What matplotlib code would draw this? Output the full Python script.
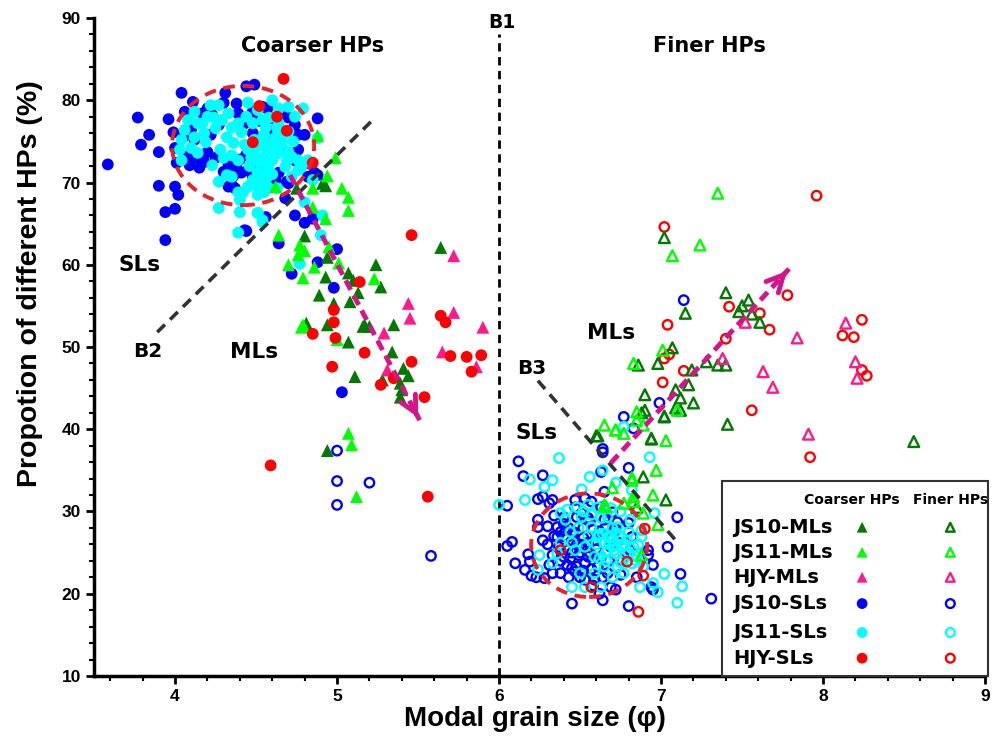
import numpy as np
import matplotlib
matplotlib.use("Agg")
import matplotlib.pyplot as plt
from matplotlib.patches import Ellipse, Rectangle

plt.rcParams['font.family'] = ['Liberation Sans', 'DejaVu Sans']
plt.rcParams['font.weight'] = 'bold'

# ---- coarser HPs (filled markers) ----
js10_ml_c_x = [4.91, 4.93, 4.75, 4.80, 4.94, 5.07, 5.10, 4.93, 5.24, 5.27, 5.13, 4.89, 4.98,
               5.64, 5.08, 5.35, 5.17, 4.94, 4.81, 5.16, 5.20, 5.07, 5.34, 5.11, 5.41, 5.44,
               5.28, 5.39, 5.39, 5.40, 4.94]
js10_ml_c_y = [69.9, 69.6, 69.3, 63.5, 60.9, 59.0, 58.1, 58.5, 60.0, 57.3, 56.6, 56.3, 55.3,
               62.1, 55.5, 52.7, 52.7, 52.7, 52.9, 52.5, 52.5, 50.6, 49.4, 46.4, 47.4, 46.5,
               46.0, 45.6, 43.9, 44.8, 37.4]

js11_ml_c_x = [4.88, 4.99, 4.94, 4.85, 5.03, 5.07, 5.07, 4.85, 4.93, 4.64, 4.77, 4.76, 4.80,
               4.70, 4.86, 4.79, 5.01, 4.95, 5.23, 4.79, 4.62, 4.78, 5.00, 5.07, 5.09, 5.12]
js11_ml_c_y = [75.7, 73.0, 70.8, 69.3, 69.3, 68.2, 66.6, 67.0, 65.6, 63.6, 62.4, 61.2, 61.7,
               60.0, 59.7, 58.4, 60.2, 62.2, 58.3, 52.7, 69.5, 52.4, 50.9, 39.5, 38.1, 31.8]

hjy_ml_c_x = [5.72, 5.44, 5.45, 5.72, 5.90, 5.29, 5.65, 5.86, 5.31]
hjy_ml_c_y = [61.1, 55.3, 53.5, 54.2, 52.4, 51.7, 49.4, 47.6, 47.2]

js10_sl_c_x = [3.585, 3.77, 3.84, 3.79, 3.90, 3.96, 4.04, 3.90, 4.00, 4.02, 4.00, 3.94, 3.94,
               4.11, 4.31, 4.44, 4.49, 4.38, 4.88, 4.76, 4.80, 4.08, 4.14, 4.09, 4.20, 4.25,
               4.33, 4.38, 4.22, 4.27, 4.23, 4.17, 4.39, 4.48, 4.54, 4.57, 4.35, 4.33, 4.37,
               4.45, 4.48, 4.54, 4.62, 4.70, 4.76, 4.74, 4.66, 4.62, 4.57, 4.48, 4.43, 4.74,
               4.69, 4.56, 4.43, 4.86, 4.82, 4.41, 4.64, 4.51, 4.01, 4.00, 3.99, 4.06, 4.12,
               4.68, 4.88, 4.74, 4.85, 4.80, 5.00, 4.88, 4.72, 4.98, 4.44, 4.64, 5.03,
               4.40, 4.44, 4.36, 4.30, 4.18, 4.15, 4.10, 4.05, 4.60, 4.66, 4.70, 4.52, 4.30,
               4.20]
js10_sl_c_y = [72.2, 77.9, 75.8, 74.6, 73.7, 77.7, 80.9, 69.6, 69.5, 68.5, 66.8, 66.4, 63.0,
               79.8, 80.9, 81.7, 81.9, 79.6, 77.8, 75.8, 75.8, 73.2, 73.0, 72.1, 73.7, 73.0,
               72.1, 71.8, 75.8, 77.0, 78.2, 78.4, 78.4, 78.6, 79.2, 79.0, 69.7, 69.5, 69.3,
               71.5, 70.7, 70.3, 70.3, 69.9, 74.0, 72.7, 74.0, 76.4, 76.0, 76.0, 77.2, 77.0,
               70.1, 65.8, 64.2, 71.2, 70.7, 71.2, 71.2, 71.5, 72.4, 74.2, 76.1, 78.6, 75.2,
               68.1, 70.9, 66.0, 65.6, 65.1, 61.9, 60.3, 58.9, 57.2, 64.1, 62.6, 44.5,
               72.8, 73.4, 70.8, 71.3, 72.5, 71.8, 76.5, 75.5, 77.8, 78.5, 77.9, 77.5, 79.7,
               79.0]

js11_sl_c_x = [4.22, 4.27, 4.12, 4.08, 4.06, 4.04, 4.03, 4.12, 4.17, 4.20, 4.25, 4.19, 4.29,
               4.33, 4.32, 4.28, 4.35, 4.39, 4.23, 4.32, 4.35, 4.27, 4.39, 4.45, 4.51, 4.44,
               4.54, 4.60, 4.64, 4.70, 4.79, 4.74, 4.56, 4.41, 4.49, 4.56, 4.57, 4.49, 4.45,
               4.54, 4.60, 4.64, 4.70, 4.72, 4.76, 4.68, 4.57, 4.51, 4.48, 4.57, 4.49, 4.57,
               4.51, 4.45, 4.40, 4.76, 4.72, 4.62, 4.66, 4.64, 4.48, 4.39, 4.35, 4.27, 4.40,
               4.51, 4.54, 4.39, 4.85, 4.82, 4.88, 4.78, 4.04, 4.14, 4.80, 4.91, 4.90, 4.77,
               4.51, 4.54, 4.42, 4.52, 4.58, 4.55, 4.60, 4.50,
               4.50, 4.55, 4.60, 4.62, 4.58, 4.52, 4.47, 4.66, 4.69, 4.60, 4.53, 4.63, 4.43,
               4.46, 4.36, 4.30, 4.18, 4.14, 4.24, 4.10, 4.58, 4.70, 4.73, 4.55, 4.63]
js11_sl_c_y = [79.4, 79.4, 78.6, 77.6, 76.4, 75.2, 74.0, 75.5, 77.2, 78.0, 76.6, 74.9, 77.6,
               78.4, 75.5, 74.0, 73.3, 72.7, 72.1, 70.9, 70.7, 70.1, 68.8, 79.7, 78.8, 78.0,
               77.6, 80.0, 79.0, 79.2, 79.0, 78.0, 76.7, 76.1, 75.2, 74.8, 74.0, 73.6, 74.0,
               73.0, 72.7, 73.6, 73.7, 73.1, 72.7, 71.9, 71.9, 71.2, 70.3, 70.7, 69.7, 69.5,
               68.5, 69.5, 67.9, 71.5, 70.7, 75.5, 75.5, 77.2, 77.2, 77.2, 76.7, 66.9, 66.4,
               66.3, 65.2, 63.9, 70.3, 72.7, 75.4, 71.9, 72.7, 73.6, 67.6, 66.0, 63.6, 60.1,
               66.3, 65.4, 68.8, 74.5, 74.2, 75.0, 74.8, 74.9,
               74.5, 75.8, 74.6, 73.4, 72.3, 72.5, 73.0, 74.8, 72.6, 71.0, 70.0, 76.6, 74.6,
               72.0, 74.8, 73.0, 76.0, 77.2, 77.9, 74.2, 77.9, 76.2, 75.0, 68.8, 69.3]

hjy_sl_c_x = [4.67, 4.52, 4.63, 4.69, 4.48, 4.85, 5.46, 5.14, 4.98, 4.98, 4.85, 4.99, 5.64,
              5.67, 5.17, 4.97, 5.46, 5.35, 5.27, 5.54, 5.70, 5.80, 5.89, 5.83, 4.59, 5.56]
hjy_sl_c_y = [82.6, 79.3, 78.0, 76.3, 74.9, 72.4, 63.6, 57.9, 54.5, 53.0, 51.6, 51.1, 53.8,
              53.0, 49.3, 47.6, 48.2, 46.2, 45.4, 43.9, 48.9, 48.8, 49.0, 47.0, 35.6, 31.8]

# ---- finer HPs (open markers) ----
js10_ml_f_x = [7.02, 7.40, 7.54, 7.50, 7.48, 7.56, 7.61, 7.15, 7.07, 6.86, 6.98, 7.19, 7.28,
               7.35, 7.40, 7.09, 7.17, 7.12, 6.90, 7.20, 7.09, 7.02, 7.41, 6.94, 6.61, 8.56,
               6.60, 6.88, 6.90, 7.02, 7.12, 6.94, 6.89, 7.03, 6.85]
js10_ml_f_y = [63.3, 56.6, 55.7, 55.0, 54.3, 54.0, 53.0, 54.1, 49.9, 47.8, 48.0, 47.2, 48.2,
               47.8, 47.8, 44.8, 45.4, 43.8, 44.2, 43.2, 42.6, 41.5, 40.6, 38.9, 39.2, 38.5,
               39.2, 42.0, 42.3, 41.6, 42.3, 38.8, 34.2, 31.4, 30.5]

js11_ml_f_x = [7.35, 7.24, 7.07, 7.01, 6.83, 7.10, 7.03, 6.65, 6.85, 6.72, 6.72, 6.85, 6.89,
               6.77, 6.82, 6.95, 6.89, 6.83, 6.97, 6.66, 6.70, 6.98, 6.82, 6.83, 6.88, 6.77,
               6.65]
js11_ml_f_y = [68.7, 62.4, 61.1, 49.6, 48.0, 42.3, 38.6, 40.5, 42.1, 39.9, 39.9, 41.1, 40.5,
               39.5, 34.1, 32.0, 29.8, 31.8, 35.0, 30.6, 32.9, 28.4, 33.8, 31.2, 24.7, 31.0,
               30.8]

hjy_ml_f_x = [7.84, 7.63, 7.69, 7.52, 7.38, 8.14, 8.20, 8.21, 7.91]
hjy_ml_f_y = [51.1, 47.0, 45.1, 53.0, 48.6, 52.9, 48.2, 46.2, 39.4]

js10_sl_f_x = [5.00, 5.00, 5.20, 5.00, 5.58, 7.14, 6.99, 6.77, 6.83, 6.64, 6.80, 6.12, 6.15,
               6.27, 6.05, 6.05, 6.08, 6.10, 6.24, 6.27, 6.31, 6.33, 6.24, 6.24, 6.27, 6.18,
               6.19, 6.16, 6.20, 6.23, 6.36, 6.36, 6.37, 6.38, 6.42, 6.45, 6.42, 6.40, 6.44,
               6.45, 6.48, 6.38, 6.33, 6.43, 6.50, 6.53, 6.59, 6.64, 6.69, 6.72, 6.64, 6.45,
               6.80, 6.47, 6.51, 6.48, 6.52, 6.55, 6.58, 6.59, 6.55, 6.51, 6.49, 6.53, 6.61,
               6.63, 6.67, 6.65, 6.63, 6.65, 6.63, 6.64, 6.73, 6.80, 6.82, 6.81, 6.76, 6.75,
               6.85, 6.92, 6.92, 6.95, 6.94, 7.04, 7.10, 7.12, 7.31, 6.33, 6.31, 6.28, 6.70,
               6.57, 6.53, 6.47, 6.70, 6.69, 6.73, 6.95, 6.72, 6.46, 6.56, 6.60, 6.50, 6.40,
               6.40, 6.43, 6.46, 6.48, 6.50, 6.52, 6.45, 6.42, 6.47, 6.55, 6.57, 6.60, 6.62,
               6.66, 6.56, 6.40, 6.34, 6.30, 6.30, 6.34, 6.38, 6.52, 6.68, 6.58, 6.62]
js10_sl_f_y = [37.4, 33.7, 33.5, 30.8, 24.6, 55.7, 43.2, 41.5, 40.1, 37.6, 35.3, 36.1, 34.3,
               34.4, 30.7, 25.8, 26.3, 23.7, 31.5, 31.8, 31.0, 31.4, 29.0, 28.1, 26.5, 24.8,
               23.9, 22.9, 22.2, 22.0, 28.1, 26.9, 25.7, 27.5, 26.9, 26.5, 25.3, 24.5, 24.3,
               23.1, 23.3, 22.5, 22.5, 22.0, 22.0, 21.7, 21.7, 22.0, 20.8, 20.5, 19.2, 18.8,
               18.5, 30.5, 29.8, 29.3, 28.0, 29.2, 27.8, 26.5, 26.2, 25.7, 24.7, 23.7, 23.3,
               24.5, 22.5, 29.0, 30.5, 32.4, 34.8, 37.2, 28.7, 28.6, 26.9, 25.3, 24.1, 22.3,
               22.0, 25.3, 24.7, 23.5, 20.8, 25.7, 29.3, 22.4, 19.4, 24.7, 23.5, 21.9, 29.9,
               31.2, 31.6, 31.4, 26.9, 25.7, 26.3, 20.5, 27.8, 27.5, 25.0, 27.0, 26.0, 28.5,
               27.0, 28.0, 27.2, 26.0, 25.0, 26.8, 25.0, 23.5, 22.7, 24.5, 23.0, 25.4, 27.6,
               28.2, 28.8, 29.3, 27.0, 26.0, 28.2, 29.5, 24.0, 22.8, 24.0, 21.0, 20.0]

js11_sl_f_x = [6.00, 6.19, 6.16, 6.28, 6.33, 6.37, 6.51, 6.56, 6.64, 6.72, 6.93, 6.96, 6.38,
               6.41, 6.51, 6.57, 6.61, 6.67, 6.73, 6.57, 6.61, 6.65, 6.70, 6.67, 6.72, 6.76,
               6.79, 6.83, 6.88, 6.88, 6.85, 6.89, 6.82, 6.73, 6.65, 6.59, 6.53, 6.47, 6.45,
               6.38, 6.36, 6.25, 6.24, 6.33, 6.50, 6.53, 6.45, 6.63, 6.77, 6.87, 6.95, 6.98,
               7.02, 7.13, 7.10, 6.44, 6.49, 6.55, 6.63, 6.82, 6.81, 6.84, 6.72, 6.70, 6.59,
               6.77, 6.68, 6.62, 6.75, 6.66, 6.71, 6.78,
               6.60, 6.64, 6.68, 6.71, 6.74, 6.77, 6.80, 6.70, 6.62, 6.66, 6.75, 6.78, 6.55,
               6.52, 6.48, 6.42, 6.69, 6.75, 6.80, 6.86]
js11_sl_f_y = [30.8, 33.9, 31.4, 33.0, 33.8, 36.5, 32.7, 34.2, 35.0, 33.5, 36.6, 29.8, 29.8,
               29.0, 29.3, 29.6, 30.5, 29.3, 28.1, 28.1, 26.9, 26.2, 26.5, 25.3, 24.9, 25.7,
               26.5, 25.7, 26.9, 27.7, 24.5, 23.3, 23.7, 23.3, 23.3, 24.5, 25.7, 25.3, 26.2,
               26.2, 24.9, 24.7, 22.9, 23.7, 22.5, 20.8, 20.8, 20.8, 22.5, 20.8, 21.3, 20.2,
               22.4, 20.9, 18.9, 27.5, 28.0, 30.8, 29.2, 32.6, 29.0, 24.1, 27.4, 22.0, 22.5,
               40.3, 26.0, 27.2, 27.0, 25.0, 25.8, 26.0,
               26.0, 27.3, 26.8, 25.3, 27.0, 26.0, 27.5, 28.0, 24.3, 24.0, 23.8, 24.8, 27.0,
               30.0, 30.5, 30.2, 30.4, 30.0, 25.0, 26.0]

hjy_sl_f_x = [7.02, 7.42, 7.61, 7.67, 7.78, 7.40, 7.04, 7.02, 7.05, 7.14, 7.01, 7.56, 7.96,
              8.24, 8.12, 8.19, 8.24, 8.27, 7.92, 6.38, 6.90, 6.79, 6.89, 6.57, 6.86]
hjy_sl_f_y = [64.6, 54.9, 54.1, 52.1, 56.3, 51.0, 52.7, 48.6, 49.1, 47.1, 45.7, 42.3, 68.4,
              53.3, 51.4, 51.2, 47.2, 46.5, 36.6, 25.3, 27.9, 23.9, 22.2, 20.8, 17.8]

# boundary lines and trend arrows
b2_x, b2_y = [3.89, 5.22], [51.8, 77.6]
b3_x, b3_y = [6.24, 7.09], [45.9, 26.5]
arrow1_x, arrow1_y = [4.71, 5.51], [70.9, 41.1]
arrow2_x, arrow2_y = [6.69, 7.79], [35.9, 59.5]

c_dkgreen = '#007a00'
c_green = '#00ff00'
c_pink = '#ff1a8c'
c_blue = '#0000ff'
c_cyan = '#00ffff'
c_red = '#ff0000'
c_arrow = '#d4148a'

fig = plt.figure(figsize=(9.92, 7.39), dpi=100)
ax = fig.add_axes([0.0948, 0.0853, 0.8982, 0.8903])

sf = 72
so = 46
# open markers
ax.scatter(js10_sl_f_x, js10_sl_f_y, s=so, marker='o', facecolors='none', edgecolors=c_blue, linewidths=1.7, zorder=3)
ax.scatter(js11_sl_f_x, js11_sl_f_y, s=so, marker='o', facecolors='none', edgecolors=c_cyan, linewidths=1.7, zorder=3)
ax.scatter(hjy_sl_f_x, hjy_sl_f_y, s=so, marker='o', facecolors='none', edgecolors=c_red, linewidths=1.7, zorder=3)
ax.scatter(js10_ml_f_x, js10_ml_f_y, s=so + 14, marker='^', facecolors='none', edgecolors=c_dkgreen, linewidths=1.7, zorder=3)
ax.scatter(js11_ml_f_x, js11_ml_f_y, s=so + 14, marker='^', facecolors='none', edgecolors=c_green, linewidths=1.7, zorder=3)
ax.scatter(hjy_ml_f_x, hjy_ml_f_y, s=so + 14, marker='^', facecolors='none', edgecolors=c_pink, linewidths=1.7, zorder=3)

# filled markers
ax.scatter(js10_sl_c_x, js10_sl_c_y, s=sf, marker='o', color=c_blue, edgecolors='none', zorder=3)
ax.scatter(js11_sl_c_x, js11_sl_c_y, s=sf, marker='o', color=c_cyan, edgecolors='none', zorder=3)
ax.scatter(js10_ml_c_x, js10_ml_c_y, s=sf + 14, marker='^', color=c_dkgreen, edgecolors='none', zorder=3)
ax.scatter(js11_ml_c_x, js11_ml_c_y, s=sf + 14, marker='^', color=c_green, edgecolors='none', zorder=3)
ax.scatter(hjy_ml_c_x, hjy_ml_c_y, s=sf + 14, marker='^', color=c_pink, edgecolors='none', zorder=3)
ax.scatter(hjy_sl_c_x, hjy_sl_c_y, s=sf, marker='o', color=c_red, edgecolors='none', zorder=3)

# red dashed ellipses round the SL clusters
for cx, cy, w, h in [(4.42, 74.5, 0.877, 14.5), (6.556, 25.9, 0.716, 12.6)]:
    ax.add_patch(Ellipse((cx, cy), w, h, fill=False, edgecolor='#e8222a', lw=2.8,
                         linestyle=(0, (3, 2)), zorder=4))

# boundaries
ax.plot([6, 6], [10, 88.0], color='black', lw=2, linestyle=(0, (3, 2)), zorder=2)
ax.plot(b2_x, b2_y, color='#333333', lw=2.6, linestyle=(0, (3, 2)), zorder=4)
ax.plot(b3_x, b3_y, color='#333333', lw=2.6, linestyle=(0, (3, 2)), zorder=4)

# trend arrows
for ax_, ay_ in [(arrow1_x, arrow1_y), (arrow2_x, arrow2_y)]:
    ax.plot(ax_, ay_, color=c_arrow, lw=3.5, linestyle=(0, (2.2, 1.3)), zorder=5)
    x0 = ax_[1] - 0.03 * (ax_[1] - ax_[0])
    y0 = ay_[1] - 0.03 * (ay_[1] - ay_[0])
    ax.annotate('', xy=(ax_[1], ay_[1]), xytext=(x0, y0),
                arrowprops=dict(arrowstyle='->,head_length=1.2,head_width=0.6',
                                color=c_arrow, lw=3.5), zorder=5)

# region labels
lab_font = dict(family='DejaVu Sans', fontweight='bold', ha='center', va='center')
ax.text(4.85, 86.6, 'Coarser HPs', fontsize=15, **lab_font)
ax.text(7.30, 86.6, 'Finer HPs', fontsize=15, **lab_font)
ax.text(6.02, 89.4, 'B1', fontsize=13.5, **lab_font)
ax.text(3.78, 60.0, 'SLs', fontsize=15.5, **lab_font)
ax.text(3.83, 49.4, 'B2', fontsize=14.5, **lab_font)
ax.text(4.49, 49.4, 'MLs', fontsize=15.5, **lab_font)
ax.text(6.69, 51.7, 'MLs', fontsize=15.5, **lab_font)
ax.text(6.20, 47.4, 'B3', fontsize=14.5, **lab_font)
ax.text(6.23, 39.5, 'SLs', fontsize=15.5, **lab_font)

ax.set_xlim(3.5, 9)
ax.set_ylim(10, 90)
ax.set_xticks([4, 5, 6, 7, 8, 9])
ax.set_yticks(range(10, 91, 10))
ax.set_xticks(np.arange(3.6, 9.01, 0.2), minor=True)
ax.set_yticks(range(12, 90, 2), minor=True)
ax.tick_params(which='major', length=6, width=2, labelsize=12.5, direction='out')
ax.tick_params(which='minor', length=3.5, width=1.5, direction='out')
for lab in ax.get_xticklabels() + ax.get_yticklabels():
    lab.set_fontweight('bold')
for s in ['top', 'right']:
    ax.spines[s].set_visible(False)
for s in ['left', 'bottom']:
    ax.spines[s].set_linewidth(2.5)

ax.set_xlabel('Modal grain size (φ)', fontsize=20, fontweight='bold')
ax.set_ylabel('Propotion of different HPs (%)', fontsize=20.5, fontweight='bold')
ax.xaxis.set_label_coords(0.495, -0.046)
ax.yaxis.set_label_coords(-0.057, 0.597)

# legend drawn by hand in axes fraction
ax.add_patch(Rectangle((0.705, 0.0), 0.298, 0.296, transform=ax.transAxes, fill=True,
                       facecolor='white', edgecolor='#333333', lw=1.5, zorder=6, clip_on=False))
leg_font = dict(family='DejaVu Sans', fontweight='bold', va='center', zorder=7)
ax.text(0.851, 0.267, 'Coarser HPs', transform=ax.transAxes, fontsize=10, ha='center', **leg_font)
ax.text(0.961, 0.267, 'Finer HPs', transform=ax.transAxes, fontsize=10, ha='center', **leg_font)
leg_names = ['JS10-MLs', 'JS11-MLs', 'HJY-MLs', 'JS10-SLs', 'JS11-SLs', 'HJY-SLs']
leg_colors = [c_dkgreen, c_green, c_pink, c_blue, c_cyan, c_red]
leg_markers = ['^', '^', '^', 'o', 'o', 'o']
leg_rows = [0.226, 0.188, 0.150, 0.110, 0.066, 0.027]
for name, col, mk, yy in zip(leg_names, leg_colors, leg_markers, leg_rows):
    ax.text(0.717, yy, name, transform=ax.transAxes, fontsize=14, ha='left', **leg_font)
    ax.scatter([0.862], [yy], transform=ax.transAxes, s=60, marker=mk, color=col,
               edgecolors='none', zorder=7, clip_on=False)
    ax.scatter([0.961], [yy], transform=ax.transAxes, s=40, marker=mk, facecolors='none',
               edgecolors=col, linewidths=1.7, zorder=7, clip_on=False)

fig.savefig('out.png', dpi=100)
